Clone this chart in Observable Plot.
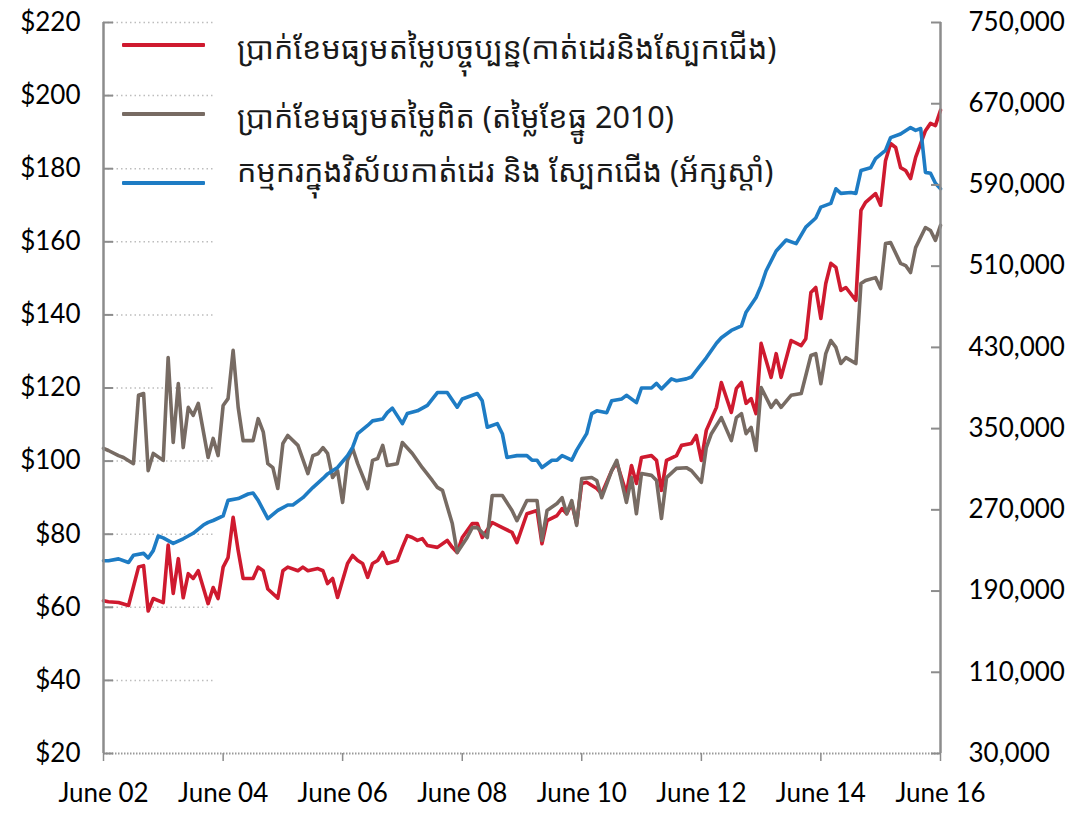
<!DOCTYPE html>
<html>
<head>
<meta charset="utf-8">
<script src="https://cdn.jsdelivr.net/npm/d3@7"></script>
<script src="https://cdn.jsdelivr.net/npm/@observablehq/plot@0.6"></script>
<style>
  html, body { margin: 0; padding: 0; background: #fff; }
  #wrap { position: relative; width: 1088px; height: 814px; overflow: hidden; }
  .sw { position: absolute; left: 122px; width: 83px; height: 4px; border-radius: 1px; }
  .lt { position: absolute; left: 237px; white-space: nowrap; font-family: "Noto Sans Khmer", "Khmer OS", "Noto Sans", "DejaVu Sans", sans-serif; font-size: 30.5px; color: #1a1a1a; line-height: 40px; }
</style>
</head>
<body>
<div id="wrap"></div>
<script>
// ---------- data ----------
const seriesNames = [
  "ប្រាក់ខែមធ្យមតម្លៃបច្ចុប្បន្ន(កាត់ដេរនិងស្បែកជើង)",
  "ប្រាក់ខែមធ្យមតម្លៃពិត (តម្លៃខែធ្នូ 2010)",
  "កម្មករក្នុងវិស័យកាត់ដេរ និង ស្បែកជើង (អ័ក្សស្តាំ)"
];
const seriesColors = ["#cf1a2f", "#776b63", "#1e7cc4"];

const nominalDates = ["2002-06","2002-07","2002-09","2002-11","2003-01","2003-02","2003-03","2003-04","2003-06","2003-07","2003-08","2003-09","2003-10","2003-11","2003-12","2004-01","2004-03","2004-04","2004-05","2004-06","2004-07","2004-08","2004-09","2004-10","2004-12","2005-01","2005-02","2005-03","2005-05","2005-06","2005-07","2005-09","2005-10","2005-11","2006-01","2006-02","2006-03","2006-04","2006-05","2006-07","2006-08","2006-09","2006-10","2006-11","2006-12","2007-01","2007-02","2007-03","2007-05","2007-06","2007-07","2007-08","2007-09","2007-10","2007-11","2008-01","2008-03","2008-04","2008-05","2008-06","2008-08","2008-09","2008-10","2008-12","2009-02","2009-04","2009-05","2009-07","2009-09","2009-10","2009-11","2010-01","2010-02","2010-03","2010-04","2010-05","2010-06","2010-07","2010-09","2010-10","2010-12","2011-01","2011-03","2011-04","2011-05","2011-06","2011-08","2011-09","2011-10","2011-11","2012-01","2012-02","2012-04","2012-05","2012-06","2012-07","2012-09","2012-10","2012-12","2013-01","2013-02","2013-03","2013-04","2013-05","2013-06","2013-08","2013-09","2013-10","2013-12","2014-02","2014-03","2014-04","2014-05","2014-06","2014-07","2014-08","2014-09","2014-10","2014-11","2015-01","2015-02","2015-03","2015-05","2015-06","2015-07","2015-08","2015-09","2015-10","2015-11","2015-12","2016-01","2016-03","2016-04","2016-05","2016-06"];
const nominalWage = [61.8,61.5,61.3,60.5,71,71.4,59,62.4,61.3,77,63.8,73.3,62.6,69.2,67.9,70,61,65.4,62.4,71,73.6,84.6,75.5,67.9,67.9,71,70,65,62.5,70,71,70,71,70,70.6,70,66.5,67.9,62.7,72,74.2,72.8,72,68.2,72,72.8,75,72,72.8,76.4,79.6,79.1,78.3,78.8,76.9,76.4,78.3,76.4,75,79.1,82.9,82.9,79.1,83.2,81.8,80.5,77.7,85.6,86.5,77.4,83.7,85.1,87,85.6,88.4,82.9,93.9,94.2,92.5,91.1,97.4,99.6,91.1,98.8,93.9,101,101.5,100.2,92,100.2,101.5,104.3,104.8,107,100.2,108.4,114.7,121.5,113.3,119.9,121.5,115.8,117.1,113,132.2,122.9,129.4,122.9,133,131.6,133.5,146.1,147.5,139,148.6,154.1,153,146.7,147.5,144,168.6,170.8,173.2,170,182.2,186.9,185.8,180.3,179.5,177.3,183.1,190.4,192.4,191.8,196];

const realDates = ["2002-06","2002-07","2002-09","2002-10","2002-12","2003-01","2003-02","2003-03","2003-04","2003-06","2003-07","2003-08","2003-09","2003-10","2003-11","2003-12","2004-01","2004-03","2004-04","2004-05","2004-06","2004-07","2004-08","2004-09","2004-10","2004-12","2005-01","2005-02","2005-03","2005-04","2005-05","2005-06","2005-07","2005-09","2005-11","2005-12","2006-01","2006-02","2006-03","2006-04","2006-05","2006-06","2006-07","2006-08","2006-09","2006-11","2006-12","2007-01","2007-02","2007-03","2007-05","2007-06","2007-08","2007-10","2007-12","2008-01","2008-02","2008-04","2008-05","2008-07","2008-08","2008-09","2008-11","2008-12","2009-02","2009-04","2009-05","2009-07","2009-09","2009-10","2009-11","2010-01","2010-02","2010-03","2010-04","2010-05","2010-06","2010-08","2010-09","2010-10","2010-12","2011-01","2011-03","2011-04","2011-05","2011-06","2011-08","2011-09","2011-10","2011-11","2012-01","2012-03","2012-04","2012-06","2012-07","2012-08","2012-10","2012-12","2013-01","2013-02","2013-03","2013-04","2013-05","2013-06","2013-08","2013-09","2013-10","2013-12","2014-02","2014-04","2014-05","2014-06","2014-07","2014-08","2014-09","2014-10","2014-11","2015-01","2015-02","2015-03","2015-05","2015-06","2015-07","2015-08","2015-10","2015-11","2015-12","2016-01","2016-03","2016-04","2016-05","2016-06"];
const realWage = [103.5,102.9,101.5,101,99.3,118,118.5,97.4,102.1,100.2,128.3,105.1,121.2,103.7,114.7,112.5,115.8,101,106.2,101.5,115.2,117.1,130.3,114.7,105.6,105.6,111.6,108,99.3,98.2,92.5,104.8,107,104.3,96.6,101.5,102,103.7,102.1,95.5,97.4,88.7,100.2,103.5,99.3,92.5,100.2,100.7,104.3,98.8,99.3,105.1,102.1,98.2,94.7,92.8,92,82.9,75,79.1,81.8,81.8,79.1,90.6,90.6,86.5,83.7,89.2,89.2,78.3,86.5,88.4,90,85.6,89.2,82.4,95.2,95.5,94.7,90,97.4,100.2,88.7,95.5,85.6,96.6,96.1,94.7,84.3,95.5,98,98.2,97.4,94.2,103.7,107.5,111.9,105.6,111.9,113,107.5,109.2,102.9,120.1,114.7,116.6,114.7,118,118.5,128.9,129.4,121.2,129.4,133,131.1,126.7,128.3,126.7,148.6,149.4,150.2,147.2,159.5,159.8,154.1,153.5,151.6,158.4,163.9,163.1,160.4,164.5];

const workerDates = ["2002-06","2002-07","2002-09","2002-11","2002-12","2003-02","2003-03","2003-04","2003-05","2003-06","2003-08","2003-10","2003-12","2004-02","2004-03","2004-04","2004-06","2004-07","2004-09","2004-11","2004-12","2005-01","2005-03","2005-05","2005-07","2005-08","2005-10","2005-12","2006-02","2006-03","2006-05","2006-07","2006-08","2006-09","2006-11","2006-12","2007-02","2007-03","2007-04","2007-06","2007-07","2007-09","2007-11","2008-01","2008-03","2008-05","2008-06","2008-09","2008-10","2008-11","2009-01","2009-02","2009-03","2009-05","2009-07","2009-08","2009-09","2009-10","2009-12","2010-01","2010-02","2010-04","2010-05","2010-07","2010-08","2010-09","2010-11","2010-12","2011-02","2011-03","2011-05","2011-06","2011-08","2011-09","2011-10","2011-12","2012-01","2012-03","2012-04","2012-05","2012-07","2012-09","2012-10","2012-12","2013-02","2013-03","2013-05","2013-06","2013-07","2013-09","2013-11","2014-01","2014-03","2014-05","2014-06","2014-08","2014-09","2014-10","2014-12","2015-01","2015-02","2015-04","2015-05","2015-07","2015-08","2015-10","2015-12","2016-01","2016-02","2016-03","2016-04","2016-05","2016-06"];
const workers = [219900,219900,221700,218100,225300,227100,222600,229800,244200,242400,237000,241500,246900,255000,257700,259500,264000,279300,281100,285600,286500,279300,261300,269400,274800,274800,282000,291900,300900,305400,311700,323400,331500,345000,353100,357600,359400,365700,370200,354900,364800,367500,372900,385500,385500,371100,379200,384600,377400,351300,354900,345000,321600,323400,323400,318900,318900,311700,318900,318900,323400,318900,328800,345000,364800,367500,365700,377400,379200,382800,375600,390000,390000,394500,389100,399000,397200,399000,400800,407100,419700,434100,439500,446700,451200,464700,479100,490800,505200,525000,535800,532200,548400,557400,568200,571800,586200,581700,582600,581700,604200,606900,615900,624000,636600,640200,646500,643800,645600,602400,601500,591600,586200];

const xTickDates = ["2002-06","2004-06","2006-06","2008-06","2010-06","2012-06","2014-06","2016-06"];
const xTickLabels = ["June 02","June 04","June 06","June 08","June 10","June 12","June 14","June 16"];
const leftTicks = [20,40,60,80,100,120,140,160,180,200,220];
const leftTickLabels = ["$20","$40","$60","$80","$100","$120","$140","$160","$180","$200","$220"];
const rightTicks = [30000,110000,190000,270000,350000,430000,510000,590000,670000,750000];
const rightTickLabels = ["30,000","110,000","190,000","270,000","350,000","430,000","510,000","590,000","670,000","750,000"];

// ---------- build ----------
const parse = d3.utcParse("%Y-%m");
const leftDomain = [20, 220];
const rightDomain = [30000, 750000];
// map the right-axis quantity onto the left scale (both axes span the full plot height)
const toLeft = d3.scaleLinear().domain(rightDomain).range(leftDomain);
const nominal = nominalDates.map((d, i) => ({date: parse(d), v: nominalWage[i]}));
const real = realDates.map((d, i) => ({date: parse(d), v: realWage[i]}));
const work = workerDates.map((d, i) => ({date: parse(d), v: toLeft(workers[i])}));
const xTicks = xTickDates.map(parse);
const xLabelMap = new Map(xTicks.map((d, i) => [+d, xTickLabels[i]]));
const leftLabelMap = new Map(leftTicks.map((v, i) => [v, leftTickLabels[i]]));
const rightTickPos = rightTicks.map(toLeft);
const rightLabelMap = new Map(rightTickPos.map((v, i) => [v, rightTickLabels[i]]));
const x0 = parse("2002-06"), x1 = parse("2016-06");
const gridEnd = parse("2004-04");

const chart = Plot.plot({
  width: 1088,
  height: 814,
  marginLeft: 103,
  marginRight: 148,
  marginTop: 22,
  marginBottom: 61,
  style: {fontFamily: "Lato, 'Open Sans', sans-serif", fontSize: "26px", color: "#111", background: "#fff"},
  x: {type: "utc", domain: [x0, x1]},
  y: {domain: leftDomain},
  marks: [
    Plot.ruleY(leftTicks.filter(v => v > 20), {x1: x0, x2: gridEnd, stroke: "#bdbdbd", strokeWidth: 1.5, strokeDasharray: "1.5,3"}),
    Plot.ruleY([20], {stroke: "#9a9a9a", strokeWidth: 2, strokeDasharray: "1.5,1.5"}),
    Plot.lineY(nominal, {x: "date", y: "v", stroke: seriesColors[0], strokeWidth: 3.6, strokeLinejoin: "round"}),
    Plot.lineY(real, {x: "date", y: "v", stroke: seriesColors[1], strokeWidth: 3.6, strokeLinejoin: "round"}),
    Plot.lineY(work, {x: "date", y: "v", stroke: seriesColors[2], strokeWidth: 3.6, strokeLinejoin: "round"}),
    Plot.ruleX([x0], {stroke: "#8c8c8c", strokeWidth: 2.5}),
    Plot.ruleX([x1], {stroke: "#8c8c8c", strokeWidth: 2.5}),
    Plot.axisY({anchor: "left", label: null, ticks: leftTicks, tickFormat: v => leftLabelMap.get(v), tickSize: -10, tickPadding: 33, stroke: "#8c8c8c", strokeWidth: 2, fill: "#000", fontSize: 26}),
    Plot.axisY({anchor: "right", label: null, ticks: rightTickPos, tickFormat: v => rightLabelMap.get(v), tickSize: -10, tickPadding: 38, stroke: "#8c8c8c", strokeWidth: 2, fill: "#000", fontSize: 26}),
    Plot.axisX({label: null, ticks: xTicks, tickFormat: d => xLabelMap.get(+d), tickSize: 8, tickPadding: 22, stroke: "#8c8c8c", strokeWidth: 1.5, fill: "#000", fontSize: 26})
  ]
});

const wrap = document.getElementById("wrap");
wrap.appendChild(chart);

// legend (overlaid inside the plot area, top-left)
const swatchTops = [43, 112, 181];
const textTops = [27, 96, 150];
seriesNames.forEach((name, i) => {
  const sw = document.createElement("div");
  sw.className = "sw";
  sw.style.top = swatchTops[i] + "px";
  sw.style.background = seriesColors[i];
  wrap.appendChild(sw);
  const t = document.createElement("div");
  t.className = "lt";
  t.style.top = textTops[i] + "px";
  t.textContent = name;
  wrap.appendChild(t);
});
</script>
</body>
</html>
